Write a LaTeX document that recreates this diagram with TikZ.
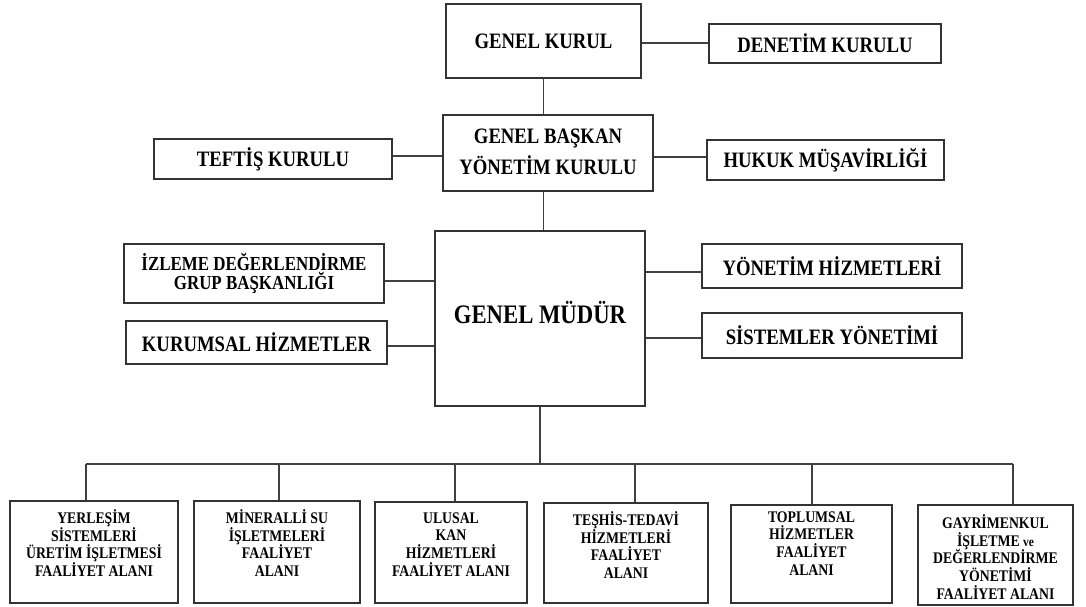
\documentclass[tikz,border=0pt]{standalone}
\usepackage{fontspec}
\setmainfont{Liberation Serif}[FakeStretch=0.85]
\begin{document}
\begin{tikzpicture}[x=1pt,y=-1pt,
  box/.style={draw=black!80, line width=1.5pt, rectangle, inner sep=0pt, align=center, text=black, font=\fontsize{22}{27}\selectfont\bfseries},
  lnk/.style={draw=black!75, line width=1.4pt},
  btxt/.style={anchor=north, inner sep=0pt, align=center, text=black, font=\fontsize{16.2}{17.8}\selectfont\bfseries}]
\useasboundingbox (0,0) rectangle (1086,607);
% top level
\node[box, minimum width=195pt, minimum height=74pt] (gk) at (543.5,41) {GENEL KURUL};
\node[box, minimum width=232pt, minimum height=39pt] (den) at (825,43.5) {DENETİM KURULU};
\node[box, minimum width=210pt, minimum height=76pt, font=\fontsize{22}{29}\selectfont\bfseries] (gb) at (548,153) {\raisebox{8pt}{\begin{tabular}{@{}c@{}}GENEL BAŞKAN\\[2pt]YÖNETİM KURULU\end{tabular}}};
\node[box, minimum width=238pt, minimum height=40pt] (tef) at (273,159) {TEFTİŞ KURULU};
\node[box, minimum width=237pt, minimum height=40pt] (huk) at (825.5,160) {HUKUK MÜŞAVİRLİĞİ};
\node[box, minimum width=210pt, minimum height=175pt, font=\fontsize{26.7}{30}\selectfont\bfseries] (gm) at (540,318.5) {\raisebox{13pt}{GENEL MÜDÜR}};
\node[box, minimum width=260pt, minimum height=59pt, font=\fontsize{19.9}{19}\selectfont\bfseries] (izl) at (254,273.5) {İZLEME DEĞERLENDİRME\\GRUP BAŞKANLIĞI};
\node[box, minimum width=261pt, minimum height=43pt] (kur) at (256.5,342.5) {KURUMSAL HİZMETLER};
\node[box, minimum width=260pt, minimum height=44pt] (yon) at (832,266) {YÖNETİM HİZMETLERİ};
\node[box, minimum width=260pt, minimum height=45pt] (sis) at (832,335.5) {SİSTEMLER YÖNETİMİ};
% bottom boxes
\node[box, minimum width=168pt, minimum height=102pt] (b1) at (94,552) {};
\node[box, minimum width=166pt, minimum height=102pt] (b2) at (277,552) {};
\node[box, minimum width=152pt, minimum height=101pt] (b3) at (451,552.5) {};
\node[box, minimum width=164pt, minimum height=100pt] (b4) at (626,553) {};
\node[box, minimum width=161pt, minimum height=98pt] (b5) at (811.5,554) {};
\node[box, minimum width=155pt, minimum height=100pt] (b6) at (995.5,555) {};
\node[btxt] (t1) at ([yshift=-9pt]b1.north) {YERLEŞİM\\SİSTEMLERİ\\ÜRETİM İŞLETMESİ\\FAALİYET ALANI};
\node[btxt] (t2) at ([yshift=-9pt]b2.north) {MİNERALLİ SU\\İŞLETMELERİ\\FAALİYET\\ALANI};
\node[btxt] (t3) at ([yshift=-11pt]b3.north) {ULUSAL\\KAN\\HİZMETLERİ\\FAALİYET ALANI};
\node[btxt] (t4) at ([yshift=-9pt]b4.north) {TEŞHİS-TEDAVİ\\HİZMETLERİ\\FAALİYET\\ALANI};
\node[btxt] (t5) at ([yshift=-7pt]b5.north) {TOPLUMSAL\\HİZMETLER\\FAALİYET\\ALANI};
\node[btxt] (t6) at ([yshift=-10pt]b6.north) {GAYRİMENKUL\\İŞLETME {\fontsize{13.5}{17.8}\selectfont ve}\\DEĞERLENDİRME\\YÖNETİMİ\\FAALİYET ALANI};
% connectors
\draw[lnk] ([yshift=-2pt]gk.east) -- ([yshift=-2pt]gk.east -| den.west);
\draw[lnk] (gk.south) -- (gk.south |- gb.north);
\draw[lnk] ([yshift=3pt]tef.east) -- ([yshift=3pt]tef.east -| gb.west);
\draw[lnk] ([yshift=3pt]huk.west) -- ([yshift=3pt]huk.west -| gb.east);
\draw[lnk] (gk.south |- gb.south) -- (gk.south |- gm.north);
\draw[lnk] ([yshift=-7.5pt]izl.east) -- ([yshift=-7.5pt]izl.east -| gm.west);
\draw[lnk] ([yshift=-3.5pt]kur.east) -- ([yshift=-3.5pt]kur.east -| gm.west);
\draw[lnk] ([yshift=-6pt]yon.west) -- ([yshift=-6pt]yon.west -| gm.east);
\draw[lnk] ([yshift=-2.5pt]sis.west) -- ([yshift=-2.5pt]sis.west -| gm.east);
% bus
\coordinate (d1) at (86,464);
\coordinate (d2) at (279,464);
\coordinate (d3) at (455,464);
\coordinate (d4) at (635,464);
\coordinate (d5) at (812,464);
\coordinate (d6) at (1013,464);
\draw[lnk] (gm.south) -- (gm.south |- d1);
\draw[lnk] (d1) -- (d6);
\draw[lnk] (d1) -- (d1 |- b1.north);
\draw[lnk] (d2) -- (d2 |- b2.north);
\draw[lnk] (d3) -- (d3 |- b3.north);
\draw[lnk] (d4) -- (d4 |- b4.north);
\draw[lnk] (d5) -- (d5 |- b5.north);
\draw[lnk] (d6) -- (d6 |- b6.north);
\end{tikzpicture}
\end{document}
